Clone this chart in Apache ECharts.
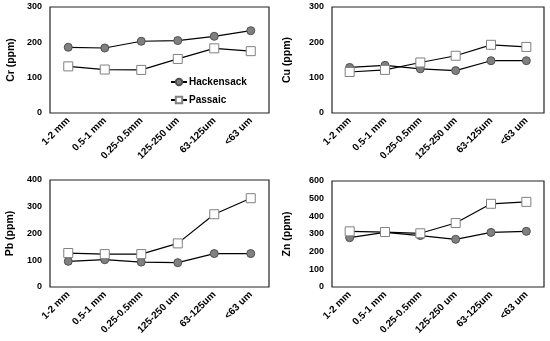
<!DOCTYPE html>
<html><head><meta charset="utf-8">
<script src="https://cdn.jsdelivr.net/npm/echarts@6/dist/echarts.min.js"></script>
<style>html,body{margin:0;padding:0;background:#fff}#c{width:550px;height:341px}</style>
</head><body><div id="c"></div>
<script>
var categories = ['1-2 mm','0.5-1 mm','0.25-0.5mm','125-250 um','63-125um','<63 um'];
var crHackensack = [186,184,203,205,217,233];
var crPassaic = [132,123,122,153,183,175];
var cuHackensack = [129,135,125,120,148,148];
var cuPassaic = [116,122,143,162,193,187];
var pbHackensack = [96,102,93,91,125,125];
var pbPassaic = [127,123,123,163,272,332];
var znHackensack = [279,309,291,270,309,315];
var znPassaic = [315,311,304,362,471,482];
var panels = [
  {name:'Cr (ppm)', max:300, interval:100, h:crHackensack, p:crPassaic, grid:{left:50,top:7,width:219,height:106}, gap:33},
  {name:'Cu (ppm)', max:300, interval:100, h:cuHackensack, p:cuPassaic, grid:{left:332,top:7,width:212,height:106}, gap:39},
  {name:'Pb (ppm)', max:400, interval:100, h:pbHackensack, p:pbPassaic, grid:{left:50,top:180,width:219,height:107}, gap:34},
  {name:'Zn (ppm)', max:600, interval:100, h:znHackensack, p:znPassaic, grid:{left:332,top:181,width:212,height:106}, gap:39}
];
var font = 'Liberation Sans, Arial, sans-serif';
var grids=[], xAxes=[], yAxes=[], series=[];
panels.forEach(function(pn,i){
  grids.push(Object.assign({show:true, borderColor:'#222', borderWidth:1.2, backgroundColor:'transparent'}, pn.grid));
  xAxes.push({type:'category', gridIndex:i, data:categories, boundaryGap:true,
    axisLine:{show:false}, axisTick:{show:false},
    axisLabel:{rotate:45, fontSize:10, fontWeight:'bold', color:'#000', fontFamily:font, margin:6, interval:0}});
  yAxes.push({type:'value', gridIndex:i, min:0, max:pn.max, interval:pn.interval,
    name:pn.name, nameLocation:'middle', nameGap:pn.gap, nameRotate:90,
    nameTextStyle:{fontSize:10.5, fontWeight:'bold', color:'#000', fontFamily:font},
    axisLine:{show:false}, axisTick:{show:false}, splitLine:{show:false},
    axisLabel:{fontSize:9, fontWeight:'bold', color:'#000', fontFamily:font, margin:8}});
  series.push({name:'Hackensack', type:'line', xAxisIndex:i, yAxisIndex:i, data:pn.h,
    symbol:'circle', symbolSize:8, lineStyle:{color:'#000', width:1.2},
    itemStyle:{color:'#808080', borderColor:'#505050', borderWidth:1}, z:3});
  series.push({name:'Passaic', type:'line', xAxisIndex:i, yAxisIndex:i, data:pn.p,
    symbol:'rect', symbolSize:9, lineStyle:{color:'#000', width:1.2},
    itemStyle:{color:'#fff', borderColor:'#808080', borderWidth:1}, z:4});
});
var chart = echarts.init(document.getElementById('c'), null, {renderer:'canvas'});
chart.setOption({
  animation:false,
  backgroundColor:'#fff',
  legend:{orient:'vertical', left:165, top:72, itemWidth:16, itemHeight:8, itemGap:8,
    data:['Hackensack','Passaic'],
    textStyle:{fontSize:10, fontWeight:'bold', color:'#000', fontFamily:font, padding:[0,0,0,-3]}},
  grid:grids, xAxis:xAxes, yAxis:yAxes, series:series
});
</script></body></html>
